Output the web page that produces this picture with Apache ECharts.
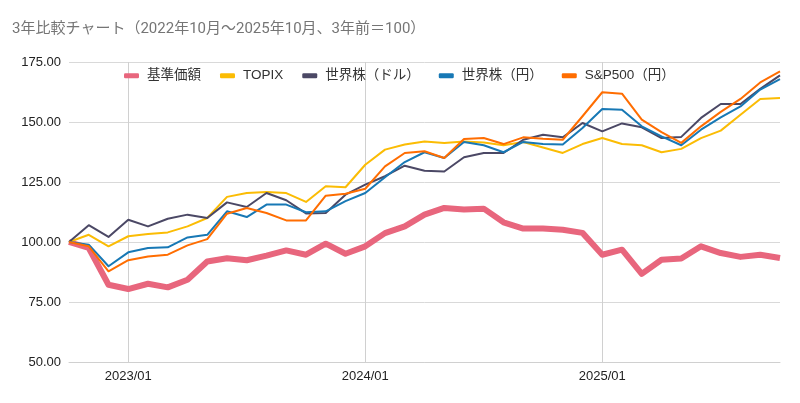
<!DOCTYPE html>
<html>
<head>
<meta charset="utf-8">
<script src="https://cdn.jsdelivr.net/npm/echarts@6/dist/echarts.min.js"></script>
<style>
html,body{margin:0;padding:0;background:#fff;}
#chart{width:800px;height:403px;}
</style>
</head>
<body>
<div id="chart"></div>
<script>
const months = [
  '2022/10','2022/11','2022/12',
  '2023/01','2023/02','2023/03','2023/04','2023/05','2023/06','2023/07','2023/08','2023/09','2023/10','2023/11','2023/12',
  '2024/01','2024/02','2024/03','2024/04','2024/05','2024/06','2024/07','2024/08','2024/09','2024/10','2024/11','2024/12',
  '2025/01','2025/02','2025/03','2025/04','2025/05','2025/06','2025/07','2025/08','2025/09','2025/10'
];
const seriesNames = ['基準価額','TOPIX','世界株（ドル）','世界株（円）','S&P500（円）'];
const nav = [100,97.5,82.2,80.4,82.6,81.1,84.3,91.9,93.2,92.4,94.3,96.5,94.7,99.3,95.1,98.2,103.7,106.5,111.4,114.2,113.5,113.9,108.2,105.6,105.6,105.1,103.8,94.7,96.8,86.7,92.6,93.1,98.2,95.4,93.8,94.7,93.3];
const topix = [100,103,98.2,102.4,103.3,104,106.5,110,118.8,120.4,120.8,120.4,116.7,123.2,122.8,132.2,138.5,140.6,141.9,141.3,141.9,141.5,140.3,141.7,139.4,137.1,140.8,143.3,140.8,140.3,137.4,138.8,143.3,146.4,153,159.6,160];
const worldUsd = [100,107,102.1,109.3,106.5,109.7,111.4,110,116.5,114.6,120.4,117.4,111.9,112.1,119.7,123.9,127.4,131.8,129.7,129.4,135.3,137.1,137.1,142.6,144.7,143.6,149.6,146.1,149.4,147.8,143.3,143.8,151.7,157.5,157.5,163.8,169.4];
const worldJpy = [100,98.9,89.9,95.7,97.5,97.8,101.9,103,112.8,110.4,115.6,115.6,112.4,112.8,117,120.4,127,133.3,137.4,135,141.7,140.3,137.4,141.7,140.8,140.6,147.5,155.4,155.1,148.2,144,140.3,146.8,151.9,156.5,163.5,167.9];
const sp500Jpy = [100,98.2,87.8,92.4,94,94.7,98.6,101.2,111.8,114.2,112.1,109,109,119.3,120.1,122.2,131.5,137.1,137.8,135,142.9,143.3,140.8,143.6,143,142.6,152.4,162.4,161.8,151,145.8,141.3,148.2,154.2,159.6,166.5,171.1];
const yTicks = {min: 50, max: 175, interval: 25};

const colors = ['#E8667D','#FBBC04','#4B4865','#1778B5','#FF6D01'];
const widths = [6,2,2,2,2];
const dataList = [nav, topix, worldUsd, worldJpy, sp500Jpy];
const isJan = (idx) => months[idx].endsWith('/01');

const chart = echarts.init(document.getElementById('chart'));
chart.setOption({
  animation: false,
  backgroundColor: '#fff',
  title: {
    text: '3年比較チャート（2022年10月～2025年10月、3年前＝100）',
    left: 12, top: 22, padding: 0,
    textStyle: {fontFamily: 'Roboto, "Noto Sans CJK JP", sans-serif', fontSize: 15, fontWeight: 'normal', color: '#757575'}
  },
  legend: {
    left: 124, top: 69, padding: 0,
    itemWidth: 15, itemHeight: 5, itemGap: 19,
    icon: 'roundRect',
    textStyle: {fontFamily: 'Arial, "Liberation Sans", "Noto Sans CJK JP", sans-serif', fontSize: 13.5, color: '#333', padding: [0,0,0,3]},
    data: seriesNames
  },
  grid: {left: 69, right: 20, top: 62, bottom: 41, containLabel: false},
  xAxis: {
    type: 'category',
    data: months,
    boundaryGap: false,
    axisLine: {show: true, lineStyle: {color: '#d0d0d0'}},
    axisTick: {show: false},
    axisLabel: {interval: isJan, margin: 8, fontFamily: 'Arial, "Liberation Sans", sans-serif', fontSize: 13, color: '#222'},
    splitLine: {show: true, interval: isJan, lineStyle: {color: '#d0d0d0'}}
  },
  yAxis: {
    type: 'value',
    min: yTicks.min, max: yTicks.max, interval: yTicks.interval,
    axisLine: {show: false},
    axisTick: {show: false},
    axisLabel: {margin: 8, formatter: (v) => v.toFixed(2), fontFamily: 'Arial, "Liberation Sans", sans-serif', fontSize: 13, color: '#222'},
    splitLine: {lineStyle: {color: '#d9d9d9'}}
  },
  series: seriesNames.map((n, i) => ({
    name: n,
    type: 'line',
    data: dataList[i],
    symbol: 'none',
    showSymbol: false,
    color: colors[i],
    lineStyle: {width: widths[i], color: colors[i], join: 'round'},
    z: 2 + i
  }))
});
</script>
</body>
</html>
